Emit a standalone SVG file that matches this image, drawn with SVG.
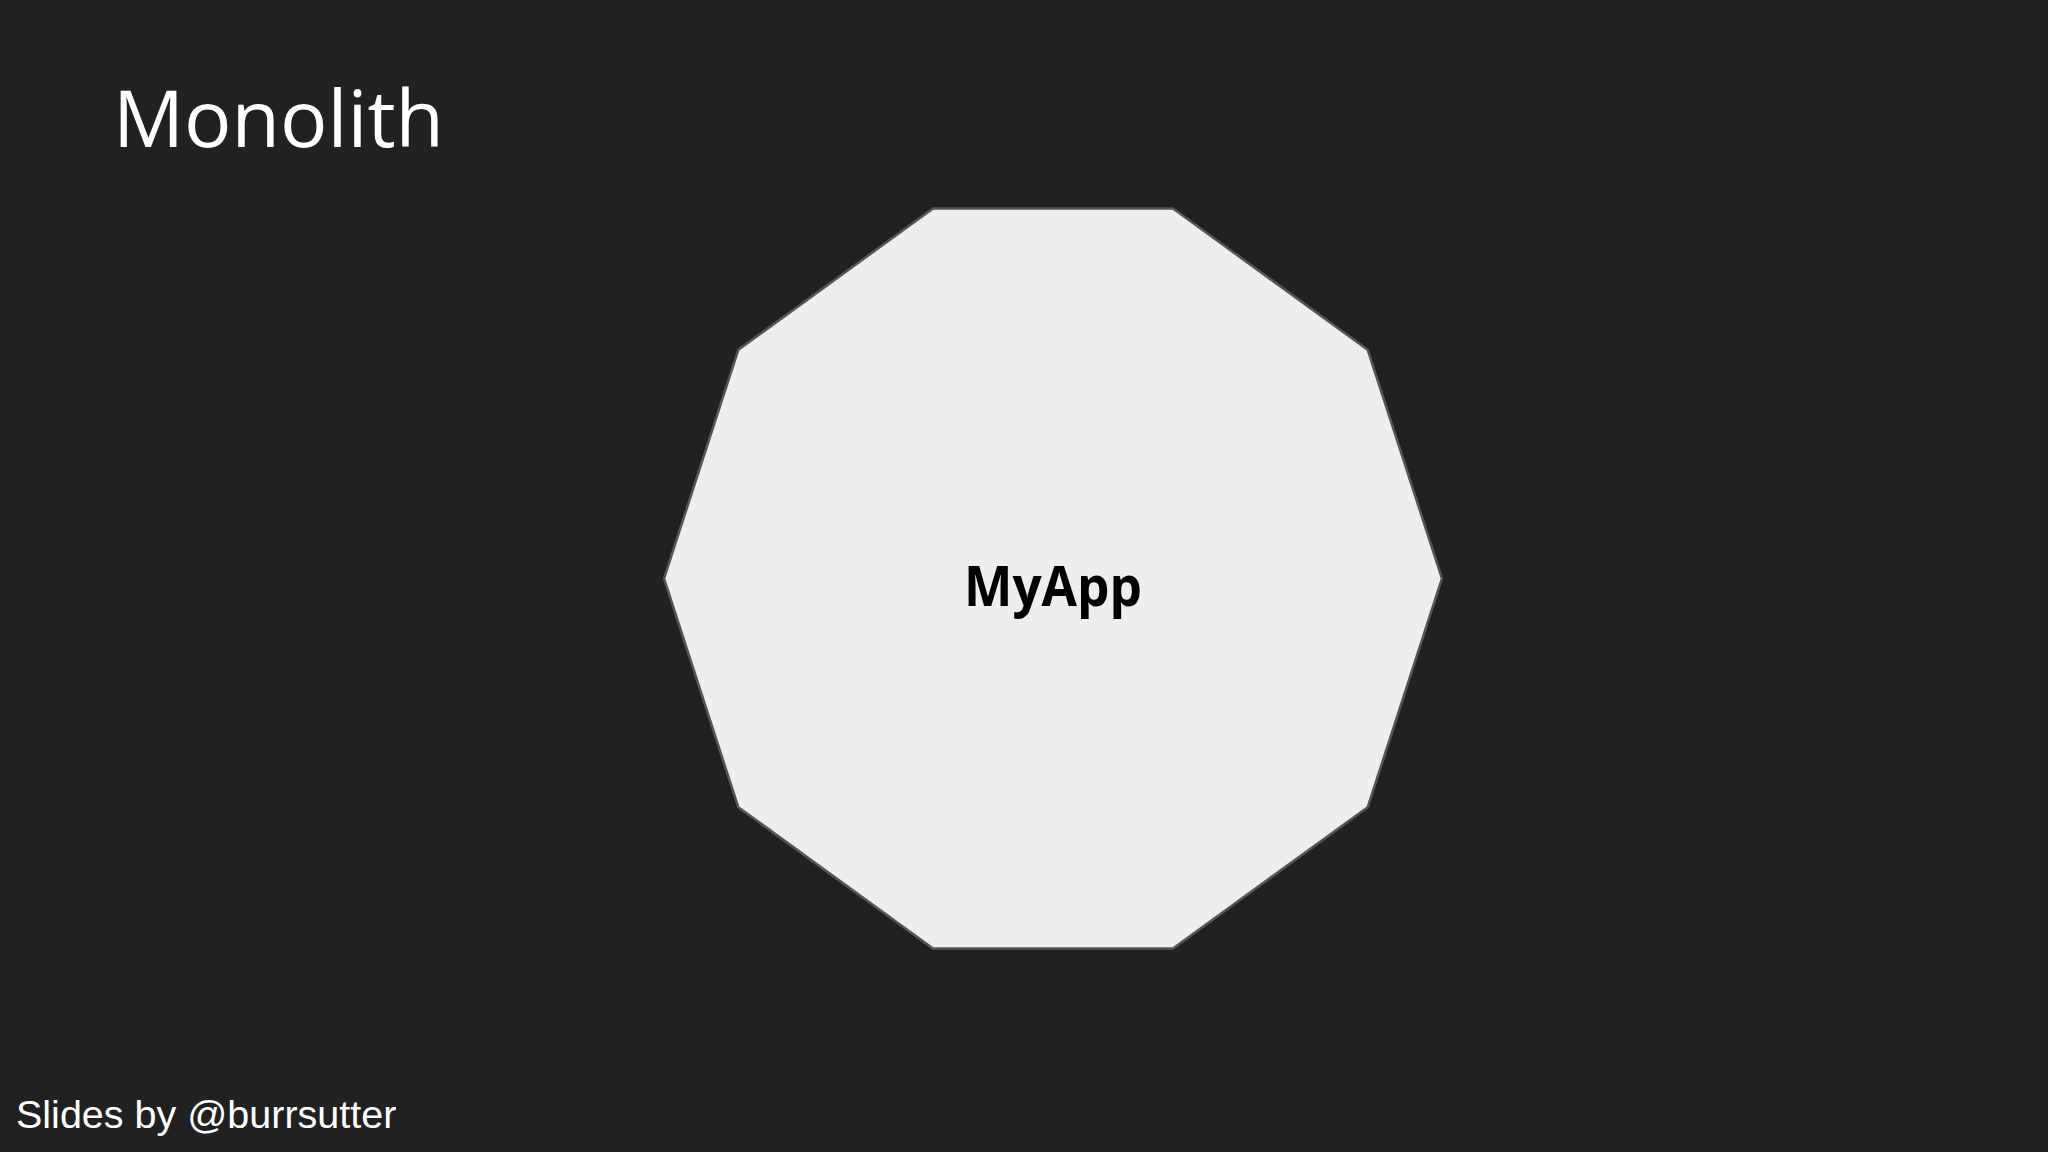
<svg xmlns="http://www.w3.org/2000/svg" width="2048" height="1152" viewBox="0 0 2048 1152">
  <style>
    .title { font-family: "Open Sans", "Noto Sans", sans-serif; font-size: 79px; fill: #ffffff; }
    .label { font-family: "Open Sans", "Noto Sans", sans-serif; font-size: 55px; font-weight: bold; fill: #000000; }
    .footer { font-family: "Liberation Sans", Arial, sans-serif; font-size: 39.5px; fill: #ffffff; }
    .shape { fill: #eeeeee; stroke: #555555; stroke-width: 2.5; }
  </style>
  <rect x="0" y="0" width="2048" height="1152" fill="#212121"/>
  <text class="title" x="113" y="147">Monolith</text>
  <g id="myapp">
    <polygon class="shape" points="933,208.5 1173,208.5 1367.7,349.8 1442,578.5 1367.7,807.2 1173,948.5 933,948.5 738.3,807.2 664,578.5 738.3,349.8"/>
    <text class="label" x="1053" y="606" text-anchor="middle" textLength="178" lengthAdjust="spacingAndGlyphs">MyApp</text>
  </g>
  <g id="connectors"></g>
  <text class="footer" x="16" y="1128">Slides by @burrsutter</text>
</svg>
